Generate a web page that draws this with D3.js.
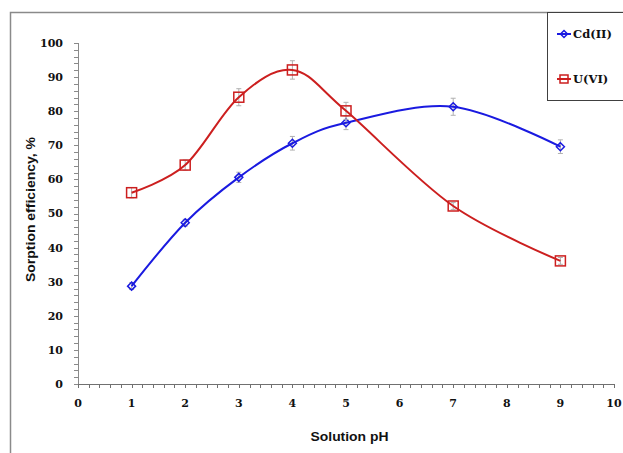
<!DOCTYPE html>
<html><head><meta charset="utf-8">
<script src="https://cdn.jsdelivr.net/npm/d3@7"></script>
<style>html,body{margin:0;padding:0;background:#fff}svg{display:block}</style>
</head><body>
<svg id="c" width="623" height="453"></svg>
<script>
const pH = [1, 2, 3, 4, 5, 7, 9];
const cdValues = [28.7, 47.3, 60.6, 70.6, 76.6, 81.3, 69.6];
const cdErrors = [1, 1, 1.5, 2, 2, 2.5, 2];
const uValues = [56.1, 64.2, 84.1, 92.1, 80.1, 52.2, 36.1];
const uErrors = [1.5, 1.5, 2.5, 2.7, 2.5, 1, 1];
const xTicks = [0,1,2,3,4,5,6,7,8,9,10];
const yTicks = [0,10,20,30,40,50,60,70,80,90,100];
const seriesNames = ["Cd(II)", "U(VI)"];

const svg = d3.select("#c");
const x = d3.scaleLinear().domain([0, 10]).range([78, 614]);
const y = d3.scaleLinear().domain([0, 100]).range([384, 43]);

// outer frame
svg.append("path").attr("d", "M10.5,453 L10.5,12.5 L623,12.5")
  .attr("fill", "none").attr("stroke", "#8a8a8a").attr("stroke-width", 1.5);

const tickFont = "'DejaVu Serif', serif";
// y axis
const yMinor = d3.range(0, 101, 2);
svg.append("g").selectAll("line").data(yMinor).join("line")
  .attr("x1", 74).attr("x2", 78).attr("y1", d => Math.round(y(d)) + 0.5).attr("y2", d => Math.round(y(d)) + 0.5)
  .attr("stroke", "#8a8a8a").attr("stroke-width", 1);
svg.append("line").attr("x1", 78.5).attr("x2", 78.5).attr("y1", y(100)).attr("y2", y(0))
  .attr("stroke", "#8a8a8a").attr("stroke-width", 1);
svg.append("g").selectAll("text").data(yTicks).join("text")
  .attr("x", 63).attr("y", d => y(d)).attr("dy", "0.36em").attr("text-anchor", "end")
  .attr("font-family", tickFont).attr("font-weight", "bold").attr("font-size", 11).attr("fill", "#111")
  .text(d => d);

// x axis
const xMinor = d3.range(0, 51).map(i => i * 0.2);
svg.append("g").selectAll("line").data(xMinor).join("line")
  .attr("x1", d => Math.round(x(d)) + 0.5).attr("x2", d => Math.round(x(d)) + 0.5).attr("y1", 384).attr("y2", 388)
  .attr("stroke", "#707070").attr("stroke-width", 1);
svg.append("line").attr("x1", x(0)).attr("x2", x(10)).attr("y1", 384.5).attr("y2", 384.5)
  .attr("stroke", "#707070").attr("stroke-width", 1.2);
svg.append("g").selectAll("text").data(xTicks).join("text")
  .attr("x", d => x(d)).attr("y", 403).attr("dy", "0.36em").attr("text-anchor", "middle")
  .attr("font-family", tickFont).attr("font-weight", "bold").attr("font-size", 11).attr("fill", "#111")
  .text(d => d);

// axis titles
svg.append("text").attr("x", 349.5).attr("y", 436).attr("dy", "0.36em").attr("text-anchor", "middle")
  .attr("font-family", "'Liberation Sans', Arial, sans-serif").attr("font-weight", "bold").attr("font-size", 13)
  .attr("textLength", 78).attr("lengthAdjust", "spacingAndGlyphs").attr("fill", "#111")
  .text("Solution pH");
svg.append("text").attr("transform", "translate(30,209.5) rotate(-90)").attr("dy", "0.36em").attr("text-anchor", "middle")
  .attr("font-family", "'Liberation Sans', Arial, sans-serif").attr("font-weight", "bold").attr("font-size", 13)
  .attr("textLength", 145).attr("lengthAdjust", "spacingAndGlyphs").attr("fill", "#111")
  .text("Sorption efficiency, %");

const series = [
  {name: seriesNames[0], vals: cdValues, errs: cdErrors, color: "#1a1ae0", shape: "diamond"},
  {name: seriesNames[1], vals: uValues, errs: uErrors, color: "#cc1f1f", shape: "square"}
];
const line = d3.line().x(d => x(d[0])).y(d => y(d[1])).curve(d3.curveCardinal.tension(0));

function marker(g, shape, cx, cy, color, s) {
  if (shape === "diamond") {
    g.append("path").attr("d", `M${cx},${cy - s} L${cx + s},${cy} L${cx},${cy + s} L${cx - s},${cy} Z`)
      .attr("fill", "none").attr("stroke", color).attr("stroke-width", 1.5);
  } else {
    g.append("rect").attr("x", cx - s).attr("y", cy - s).attr("width", 2 * s).attr("height", 2 * s)
      .attr("fill", "none").attr("stroke", color).attr("stroke-width", 1.5);
  }
}

series.forEach(s => {
  const g = svg.append("g");
  const pts = pH.map((p, i) => [p, s.vals[i]]);
  // error bars
  pts.forEach((p, i) => {
    const cx = x(p[0]), top = y(p[1] + s.errs[i]), bot = y(p[1] - s.errs[i]);
    g.append("line").attr("x1", cx).attr("x2", cx).attr("y1", top).attr("y2", bot).attr("stroke", "#b0b0b0").attr("stroke-width", 1);
    [top, bot].forEach(yy => g.append("line").attr("x1", cx - 2.5).attr("x2", cx + 2.5).attr("y1", yy).attr("y2", yy).attr("stroke", "#b0b0b0").attr("stroke-width", 1));
  });
  g.append("path").attr("d", line(pts)).attr("fill", "none").attr("stroke", s.color).attr("stroke-width", 2);
  pts.forEach(p => marker(g, s.shape, x(p[0]), y(p[1]), s.color, s.shape === "diamond" ? 4 : 5));
});

// legend
svg.append("rect").attr("x", 547.5).attr("y", 12.5).attr("width", 80).attr("height", 88)
  .attr("fill", "#fff").attr("stroke", "#404040").attr("stroke-width", 1);
const legY = [34, 79];
series.forEach((s, i) => {
  const g = svg.append("g");
  g.append("line").attr("x1", 557).attr("x2", 571).attr("y1", legY[i]).attr("y2", legY[i]).attr("stroke", s.color).attr("stroke-width", 2);
  marker(g, s.shape, 564, legY[i], s.color, s.shape === "diamond" ? 3.5 : 4);
  g.append("text").attr("x", 573).attr("y", legY[i]).attr("dy", "0.36em")
    .attr("font-family", tickFont).attr("font-weight", "bold").attr("font-size", 11.5).attr("fill", "#111")
    .text(s.name);
});
</script>
</body></html>
